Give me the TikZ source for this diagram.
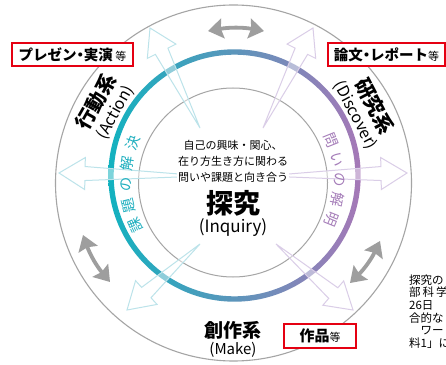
\documentclass[tikz,border=0pt]{standalone}
\usepackage{fontspec}
\setmainfont{Noto Sans CJK JP}
\usetikzlibrary{calc,arrows.meta}
\definecolor{teal1}{HTML}{12B2BF}
\definecolor{purp1}{HTML}{A678B7}
\definecolor{tealtxt}{HTML}{1FAFBF}
\definecolor{purptxt}{HTML}{A57DB9}
\definecolor{circgray}{HTML}{A5A5A5}
\definecolor{arrgray}{HTML}{9E9E9E}
\definecolor{lcyan}{HTML}{BCE3EA}
\definecolor{lpurp}{HTML}{DACDE7}
\definecolor{boxred}{HTML}{E50012}
\newcommand{\harrow}[3]{%
  \coordinate (#1-hb) at ($(#2)!26pt!(#1)$);
  \draw[#3, line width=1pt, line join=miter, fill=white, fill opacity=0.45]
    (#1) -- ($(#1-hb)!7pt!90:(#2)$) -- ($(#1-hb)!16pt!90:(#2)$) -- (#2)
    -- ($(#1-hb)!16pt!-90:(#2)$) -- ($(#1-hb)!7pt!-90:(#2)$) -- cycle;
}
\tikzset{
  garr/.style={arrgray, line width=3.8pt,
    {Stealth[length=15pt,width=20pt,inset=2pt]}-{Stealth[length=15pt,width=20pt,inset=2pt]}},
  redbox/.style={draw=boxred, line width=1.6pt, fill=white, inner sep=0pt},
  sys/.style={font=\fontsize{20}{22}\selectfont\bfseries, inner sep=0pt},
  eng/.style={font=\fontsize{16}{18}\selectfont, inner sep=0pt},
  arcch/.style={font=\fontsize{14.5}{16}\selectfont, inner sep=0pt},
}
\begin{document}
\begin{tikzpicture}[x=1pt,y=1pt]
\useasboundingbox (0,0) rectangle (446,364);
\fill[white] (0,0) rectangle (446,364);
\coordinate (Co) at (233.5,181);
\coordinate (Ci) at (233,181.5);
\coordinate (Cb) at (234.5,188.5);
\coordinate (Ct) at (234,184);
% circles
\draw[circgray, line width=1.1pt] (Co) circle[radius=178];
\draw[circgray, line width=1pt] (Ci) circle[radius=94.5];
\shade[left color=teal1, right color=purp1, even odd rule]
  (Cb) circle[radius=126.2] (Cb) circle[radius=120.8];
% light arrows
\coordinate (s1) at (200,236); \coordinate (t1) at (150,336);
\coordinate (s2) at (204,188); \coordinate (t2) at (59,191);
\coordinate (s3) at (200,120); \coordinate (t3) at (127,54);
\coordinate (s4) at (263,236); \coordinate (t4) at (313,336);
\coordinate (s5) at (264,188); \coordinate (t5) at (407,191);
\coordinate (s6) at (276,120); \coordinate (t6) at (353,54);
\harrow{s1}{t1}{lcyan}
\harrow{s2}{t2}{lcyan}
\harrow{s3}{t3}{lcyan}
\harrow{s4}{t4}{lpurp}
\harrow{s5}{t5}{lpurp}
\harrow{s6}{t6}{lpurp}
% gray double arrows
\coordinate (g1a) at (208,333); \coordinate (g1b) at (264,333);
\coordinate (g2a) at (83,129);  \coordinate (g2b) at (110,82);
\coordinate (g3a) at (380,123); \coordinate (g3b) at (350,81);
\draw[garr] (g1a) to[bend left=10] (g1b);
\draw[garr] (g2a) to[bend right=10] (g2b);
\draw[garr] (g3a) to[bend left=10] (g3b);
% centre texts
\node[fill=white, inner sep=1pt, align=center, font=\fontsize{11}{16}\selectfont]
  (ctext) at (233,203) {自己の興味・関心、\\在り方生き方に関わる\\問いや課題と向き合う};
\node[font=\fontsize{27}{30}\selectfont\bfseries, inner sep=0pt] (tan) at (233,161) {探究};
\node[font=\fontsize{17}{20}\selectfont, inner sep=0pt] (inq) at (233,136) {(Inquiry)};
% system labels
\node[sys, rotate=60.5] (act) at ($(Ct)+(150.5:159)$) {行動系};
\node[eng, rotate=60.5] (acte) at ($(Ct)+(150.3:136.5)$) {(Action)};
\node[sys, rotate=-62.3] (dis) at ($(Ct)+(27.7:159)$) {研究系};
\node[eng, rotate=-62] (dise) at ($(Ct)+(28:137.5)$) {(Discover)};
\node[font=\fontsize{19}{22}\selectfont\bfseries, inner sep=0pt] (mak) at (233,33.5) {創作系};
\node[font=\fontsize{15}{18}\selectfont, inner sep=0pt] (make) at (233,14) {(Make)};
% arc texts
\foreach \a/\ch [count=\i] in {205/課,193.75/題,182.5/の,171.25/解,160/決}
  \node[arcch, tealtxt, rotate=\a-90] (k\i) at ($(Ct)+(\a:108)$) {\ch};
\foreach \a/\ch [count=\i] in {22/問,11/い,0/の,-11/解,-22/明}
  \node[arcch, purptxt, rotate=\a-90] (m\i) at ($(Ct)+(\a:105)$) {\ch};
% red boxes
\node[redbox, minimum width=121pt, minimum height=23pt] (b1) at (72.5,309.5)
  {\fontsize{14.5}{16}\selectfont\bfseries プレゼン\kern-.25em・\kern-.25em実演\,{\fontsize{11}{12}\selectfont\mdseries 等}};
\node[redbox, minimum width=117pt, minimum height=23pt] (b2) at (386.5,309.5)
  {\fontsize{14.5}{16}\selectfont\bfseries 論文\kern-.25em・\kern-.25emレポート{\fontsize{11}{12}\selectfont\mdseries 等}};
\node[redbox, minimum width=72pt, minimum height=24pt] (b3) at (320,28)
  {\fontsize{15}{16}\selectfont\bfseries 作品{\fontsize{11}{12}\selectfont\mdseries 等}};
% cropped side note
\node[anchor=west, align=left, inner sep=0pt, font=\fontsize{11.5}{12.6}\selectfont]
  (note) at (409,52.5) {探究の\\部\kern2pt科\kern2pt学\\26日\\合的な\\　ワー\\料1」に};
\end{tikzpicture}
\end{document}
